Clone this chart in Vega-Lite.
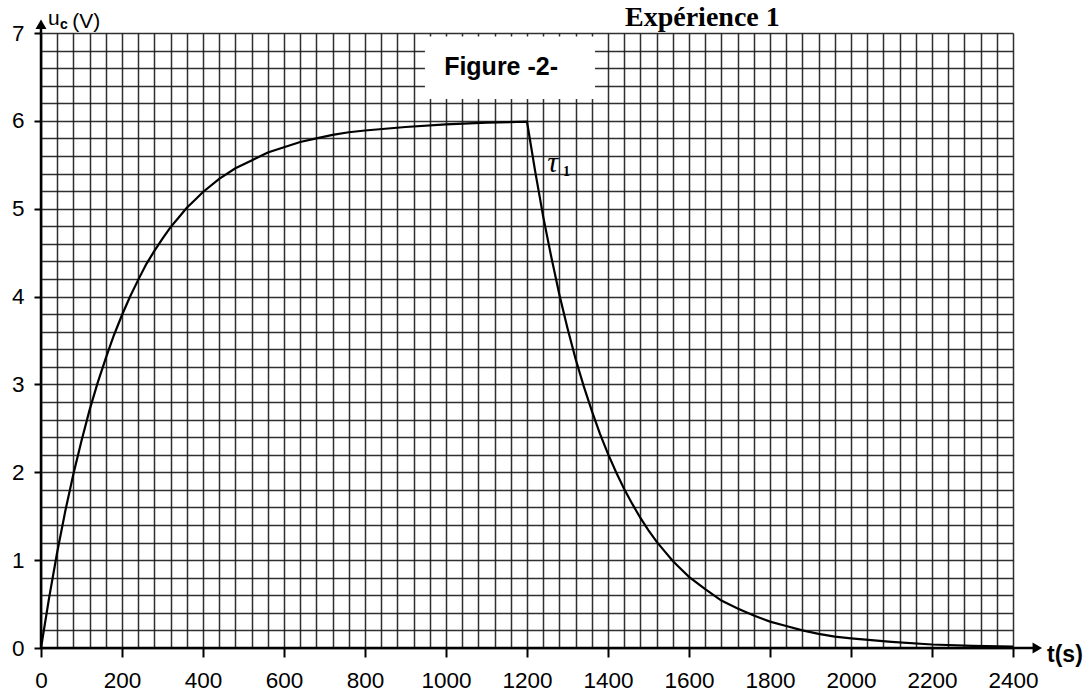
{
  "$schema": "https://vega.github.io/schema/vega-lite/v6.json",
  "width": 972,
  "height": 615,
  "autosize": {"type": "none"},
  "padding": {"left": 41, "top": 33, "right": 78, "bottom": 52},
  "background": "white",
  "config": {
    "view": {"stroke": null},
    "font": "Liberation Sans"
  },
  "encoding": {
    "x": {
      "field": "t",
      "type": "quantitative",
      "scale": {"domain": [0, 2400], "nice": false, "zero": false},
      "axis": {
        "title": null,
        "orient": "bottom",
        "values": [0, 40, 80, 120, 160, 200, 240, 280, 320, 360, 400, 440, 480, 520, 560, 600, 640, 680, 720, 760, 800, 840, 880, 920, 960, 1000, 1040, 1080, 1120, 1160, 1200, 1240, 1280, 1320, 1360, 1400, 1440, 1480, 1520, 1560, 1600, 1640, 1680, 1720, 1760, 1800, 1840, 1880, 1920, 1960, 2000, 2040, 2080, 2120, 2160, 2200, 2240, 2280, 2320, 2360, 2400],
        "labelExpr": "datum.value % 200 === 0 ? datum.value : ''",
        "grid": true,
        "gridColor": "#1a1a1a",
        "gridWidth": 1.5,
        "gridOpacity": 0.9,
        "domain": false,
        "ticks": true,
        "tickColor": "black",
        "tickWidth": 2,
        "tickSize": 9,
        "tickOpacity": {"condition": {"test": "datum.value % 200 === 0", "value": 1}, "value": 0},
        "labelFont": "Liberation Sans",
        "labelFontSize": 22.5,
        "labelColor": "black",
        "labelPadding": 12,
        "labelOverlap": false,
        "labelFlush": false,
        "labelBound": false
      }
    },
    "y": {
      "field": "u",
      "type": "quantitative",
      "scale": {"domain": [0, 7], "nice": false, "zero": false},
      "axis": {
        "title": null,
        "orient": "left",
        "values": [0, 0.2, 0.4, 0.6, 0.8, 1, 1.2, 1.4, 1.6, 1.8, 2, 2.2, 2.4, 2.6, 2.8, 3, 3.2, 3.4, 3.6, 3.8, 4, 4.2, 4.4, 4.6, 4.8, 5, 5.2, 5.4, 5.6, 5.8, 6, 6.2, 6.4, 6.6, 6.8, 7],
        "labelExpr": "abs(datum.value - round(datum.value)) < 0.01 ? format(datum.value, 'd') : ''",
        "grid": true,
        "gridColor": "#1a1a1a",
        "gridWidth": 1.5,
        "gridOpacity": 0.9,
        "domain": false,
        "ticks": true,
        "tickColor": "black",
        "tickWidth": 2,
        "tickSize": 7,
        "tickOpacity": {"condition": {"test": "abs(datum.value - round(datum.value)) < 0.01", "value": 1}, "value": 0},
        "labelFont": "Liberation Sans",
        "labelFontSize": 22.5,
        "labelColor": "black",
        "labelPadding": 10,
        "labelOverlap": false,
        "labelFlush": false,
        "labelBound": false
      }
    }
  },
  "layer": [
    {
      "description": "White panel behind the figure caption",
      "data": {"values": [{"t": 948, "t2": 1368, "u": 6.25, "u2": 6.96}]},
      "mark": {"type": "rect", "fill": "white", "stroke": null},
      "encoding": {"x2": {"field": "t2"}, "y2": {"field": "u2"}}
    },
    {
      "description": "Capacitor voltage: charge then discharge",
      "data": {"values": [
        {"t": 0, "u": 0}, {"t": 20, "u": 0.57}, {"t": 40, "u": 1.09}, {"t": 60, "u": 1.56}, {"t": 80, "u": 1.98},
        {"t": 100, "u": 2.36}, {"t": 120, "u": 2.71}, {"t": 140, "u": 3.02}, {"t": 160, "u": 3.3}, {"t": 180, "u": 3.56},
        {"t": 200, "u": 3.79}, {"t": 220, "u": 4.0}, {"t": 240, "u": 4.19}, {"t": 260, "u": 4.37}, {"t": 280, "u": 4.52},
        {"t": 300, "u": 4.66}, {"t": 320, "u": 4.79}, {"t": 340, "u": 4.9}, {"t": 360, "u": 5.01}, {"t": 380, "u": 5.1},
        {"t": 400, "u": 5.19}, {"t": 440, "u": 5.34}, {"t": 480, "u": 5.46}, {"t": 520, "u": 5.55}, {"t": 560, "u": 5.64},
        {"t": 600, "u": 5.7}, {"t": 640, "u": 5.76}, {"t": 680, "u": 5.8}, {"t": 720, "u": 5.84}, {"t": 760, "u": 5.87},
        {"t": 800, "u": 5.89}, {"t": 900, "u": 5.93}, {"t": 1000, "u": 5.96}, {"t": 1100, "u": 5.98}, {"t": 1200, "u": 5.99},
        {"t": 1220, "u": 5.43}, {"t": 1240, "u": 4.91}, {"t": 1260, "u": 4.45}, {"t": 1280, "u": 4.02}, {"t": 1300, "u": 3.64},
        {"t": 1320, "u": 3.29}, {"t": 1340, "u": 2.98}, {"t": 1360, "u": 2.7}, {"t": 1380, "u": 2.44}, {"t": 1400, "u": 2.21},
        {"t": 1420, "u": 2.0}, {"t": 1440, "u": 1.81}, {"t": 1460, "u": 1.64}, {"t": 1480, "u": 1.48}, {"t": 1500, "u": 1.34},
        {"t": 1520, "u": 1.21}, {"t": 1540, "u": 1.1}, {"t": 1560, "u": 0.99}, {"t": 1580, "u": 0.9}, {"t": 1600, "u": 0.81},
        {"t": 1640, "u": 0.67}, {"t": 1680, "u": 0.54}, {"t": 1720, "u": 0.45}, {"t": 1760, "u": 0.37}, {"t": 1800, "u": 0.3},
        {"t": 1840, "u": 0.25}, {"t": 1880, "u": 0.2}, {"t": 1920, "u": 0.16}, {"t": 1960, "u": 0.13}, {"t": 2000, "u": 0.11},
        {"t": 2100, "u": 0.07}, {"t": 2200, "u": 0.04}, {"t": 2300, "u": 0.025}, {"t": 2400, "u": 0.015}
      ]},
      "mark": {"type": "line", "color": "black", "strokeWidth": 2.2, "interpolate": "linear"}
    },
    {
      "description": "Axis lines extended past the grid",
      "data": {"values": [
        {"t": 0, "t2": 2462, "u": 0, "u2": 0},
        {"t": 0, "t2": 0, "u": 0, "u2": 7.1}
      ]},
      "mark": {"type": "rule", "color": "black", "strokeWidth": 2.5},
      "encoding": {"x2": {"field": "t2"}, "y2": {"field": "u2"}}
    },
    {
      "description": "Arrow heads",
      "data": {"values": [
        {"t": 2460, "u": 0, "dir": "right"},
        {"t": 0, "u": 7.1, "dir": "up"}
      ]},
      "mark": {"type": "point", "filled": true, "color": "black", "opacity": 1, "size": 120},
      "encoding": {
        "shape": {"field": "dir", "type": "nominal", "scale": {"domain": ["right", "up"], "range": ["triangle-right", "triangle-up"]}, "legend": null}
      }
    },
    {
      "data": {"values": [{"t": 1136, "u": 6.52, "label": "Figure -2-"}]},
      "mark": {"type": "text", "font": "Liberation Sans", "fontWeight": "bold", "fontSize": 25, "align": "center", "baseline": "alphabetic", "color": "black"},
      "encoding": {"text": {"field": "label"}}
    },
    {
      "data": {"values": [{"t": 1442, "u": 7.08, "label": "Expérience 1"}]},
      "mark": {"type": "text", "font": "Liberation Serif", "fontWeight": "bold", "fontSize": 28, "align": "left", "baseline": "alphabetic", "color": "black"},
      "encoding": {"text": {"field": "label"}}
    },
    {
      "data": {"values": [{"t": 2484, "u": -0.16, "label": "t(s)"}]},
      "mark": {"type": "text", "font": "Liberation Sans", "fontWeight": "bold", "fontSize": 23, "align": "left", "baseline": "alphabetic", "color": "black"},
      "encoding": {"text": {"field": "label"}}
    },
    {
      "data": {"values": [{"t": 17, "u": 7.09, "label": "u"}, {"t": 77, "u": 7.06, "label": "(V)"}]},
      "mark": {"type": "text", "font": "Liberation Sans", "fontSize": 21, "align": "left", "baseline": "alphabetic", "color": "black"},
      "encoding": {"text": {"field": "label"}}
    },
    {
      "data": {"values": [{"t": 47, "u": 7.045, "label": "c"}]},
      "mark": {"type": "text", "font": "Liberation Sans", "fontWeight": "bold", "fontSize": 14, "align": "left", "baseline": "alphabetic", "color": "black"},
      "encoding": {"text": {"field": "label"}}
    },
    {
      "data": {"values": [{"t": 1250, "u": 5.42, "label": "τ"}]},
      "mark": {"type": "text", "font": "Liberation Serif", "fontStyle": "italic", "fontSize": 30, "align": "left", "baseline": "alphabetic", "color": "black"},
      "encoding": {"text": {"field": "label"}}
    },
    {
      "data": {"values": [{"t": 1289, "u": 5.37, "label": "1"}]},
      "mark": {"type": "text", "font": "Liberation Serif", "fontWeight": "bold", "fontSize": 14, "align": "left", "baseline": "alphabetic", "color": "black"},
      "encoding": {"text": {"field": "label"}}
    }
  ]
}
